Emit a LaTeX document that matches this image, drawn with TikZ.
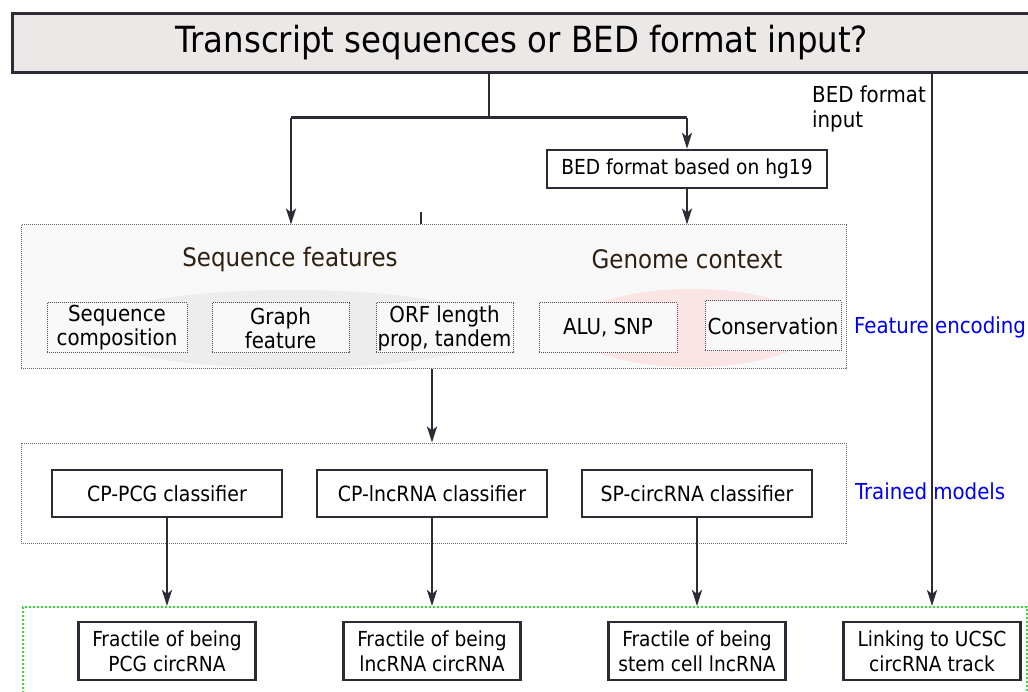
\documentclass[tikz,border=0pt]{standalone}
\usepackage{fontspec}
\setmainfont{DejaVu Sans Condensed}
\usetikzlibrary{arrows.meta,shapes.geometric}
\definecolor{dk}{HTML}{2F2A36}
\definecolor{titlefill}{HTML}{ECE8E7}
\definecolor{featfill}{HTML}{F8F8F8}
\definecolor{ellgray}{HTML}{EDEDED}
\definecolor{ellpink}{HTML}{FBE4E4}
\definecolor{brown}{HTML}{2E1F10}
\definecolor{grn}{HTML}{33DD33}
\definecolor{blu}{HTML}{0000EE}
\tikzset{
  x=1pt,y=-1pt,
  conn/.style={draw=dk,line width=2.4pt},
  arr/.style={conn,-{Stealth[length=16pt,width=10pt,inset=4pt]}},
  solidbox/.style={draw=dk,line width=2.4pt,fill=white,inner sep=0pt,align=center,font=\fontsize{20.7}{25}\selectfont,text=black},
  dotbox/.style={draw=gray!80!black,densely dotted,line width=1pt,inner sep=0pt},
  smallbox/.style={draw=black!70,densely dotted,line width=1pt,fill=featfill,inner sep=0pt,align=center,font=\fontsize{22}{24}\selectfont,minimum height=50pt},
  head/.style={text=brown,font=\fontsize{25.5}{30}\selectfont},
  side/.style={text=blu,font=\fontsize{22}{26}\selectfont,anchor=west,inner sep=0pt},
}
\begin{document}
\begin{tikzpicture}
\useasboundingbox (0,0) rectangle (1028,692);
% title
\node[draw=dk,line width=3pt,fill=titlefill,minimum width=1040pt,minimum height=59pt,inner sep=0pt] (title) at (532,43.5) {};
\node[font=\fontsize{36}{40}\selectfont,inner sep=0pt] (titletext) at (522,43) {Transcript sequences or BED format input?};
% feature box
\node[dotbox,fill=featfill,minimum width=825pt,minimum height=144pt] (feat) at (433.5,297) {};
\node[ellipse,fill=ellgray,minimum width=420pt,minimum height=78pt,inner sep=0pt] (ellg) at (292,329) {};
\node[ellipse,fill=ellpink,minimum width=242pt,minimum height=78pt,inner sep=0pt] (ellp) at (692,328) {};
\node[head] (seqf) at (290,259) {Sequence features};
\node[head] (genc) at (687,259) {Genome context};
\node[smallbox,minimum width=140pt] (sc) at (117,328) {Sequence\\composition};
\node[smallbox,minimum width=137pt] (gf) at (280.5,328) {Graph\\feature};
\node[smallbox,minimum width=137pt] (orf) at (444.5,328) {ORF length\\prop, tandem};
\node[smallbox,minimum width=138pt] (alu) at (608,328) {ALU, SNP};
\node[smallbox,minimum width=136pt] (cons) at (773,326) {Conservation};
% BED box
\node[solidbox,minimum width=280pt,minimum height=38pt] (bed) at (687,169) {BED format based on hg19};
% trained box
\node[dotbox,minimum width=825pt,minimum height=100pt] (train) at (433.5,493) {};
\node[solidbox,minimum width=230pt,minimum height=47pt,font=\fontsize{21}{25}\selectfont] (c1) at (167,493.5) {CP-PCG classifier};
\node[solidbox,minimum width=230pt,minimum height=47pt,font=\fontsize{21}{25}\selectfont] (c2) at (432,493.5) {CP-lncRNA classifier};
\node[solidbox,minimum width=230pt,minimum height=47pt,font=\fontsize{21}{25}\selectfont] (c3) at (697,493.5) {SP-circRNA classifier};
% output box
\node[draw=grn,dotted,line width=2pt,minimum width=1004pt,minimum height=100pt,inner sep=0pt] (outbox) at (525,657) {};
\node[solidbox,minimum width=177pt,minimum height=58pt] (o1) at (167,651) {Fractile of being\\PCG circRNA};
\node[solidbox,minimum width=177pt,minimum height=58pt] (o2) at (432,651) {Fractile of being\\lncRNA circRNA};
\node[solidbox,minimum width=177pt,minimum height=58pt] (o3) at (697,651) {Fractile of being\\stem cell lncRNA};
\node[solidbox,minimum width=177pt,minimum height=58pt] (o4) at (932,651) {Linking to UCSC\\circRNA track};
% side labels
\node[anchor=north west,align=left,inner sep=0pt,font=\fontsize{22}{25}\selectfont] (bedin) at (812,86) {BED format\\input};
\node[side] (fe) at (854,327) {Feature encoding};
\node[side] (tm) at (855,491) {Trained models};
% connectors
\coordinate (jm) at (489,118);
\coordinate (jl) at (291,118);
\coordinate (jr) at (687,118);
\coordinate (fx) at (432,0);
\coordinate (rx) at (932,0);
\coordinate (tick) at (421,212);
\draw[conn] (title.south -| jm) -- (jm);
\draw[conn,line width=3pt] (jl) -- (jr);
\draw[arr] (jl) -- (jl |- feat.north);
\draw[arr] (jr) -- (bed.north);
\draw[arr] (bed.south) -- (feat.north -| bed);
\draw[draw=dk,line width=1.2pt] (tick) -- (tick |- feat.north);
\draw[arr] (feat.south -| fx) -- (train.north -| fx);
\draw[arr] (c1.south) -- (outbox.north -| c1);
\draw[arr] (c2.south) -- (outbox.north -| c2);
\draw[arr] (c3.south) -- (outbox.north -| c3);
\draw[arr] (title.south -| rx) -- (outbox.north -| rx);
\end{tikzpicture}
\end{document}
